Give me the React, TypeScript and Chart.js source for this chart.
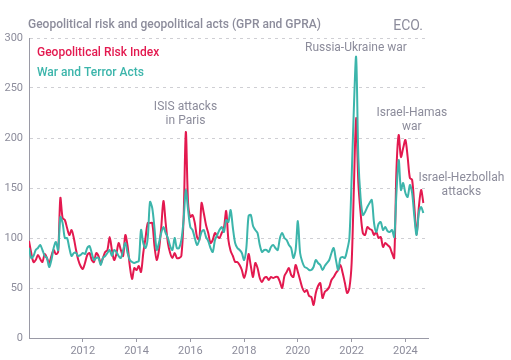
import React, { useEffect, useRef } from "react";
import { Chart, registerables } from "chart.js";

Chart.register(...registerables);

const START_YEAR = 2010;
const X_MAX = 2024.84;
const Y_TICKS = [0, 50, 100, 150, 200, 250, 300];
const X_TICK_YEARS = [2012, 2014, 2016, 2018, 2020, 2022, 2024];

// Monthly values from Jan 2010 to Sep 2024
const gprValues = [
  97, 85, 76, 78, 83, 79, 76, 84, 80, 75, 82, 88,
  84, 86, 140, 120, 118, 110, 103, 108, 100, 88, 78, 72,
  69, 75, 83, 85, 78, 76, 85, 82, 75, 80, 86, 88,
  101, 88, 78, 84, 95, 88, 82, 103, 92, 72, 59, 70,
  68, 72, 66, 85, 100, 115, 115, 115, 92, 78, 88, 110,
  137, 115, 95, 85, 80, 85, 80, 80, 82, 120, 206, 135,
  121, 123, 115, 101, 98, 135, 125, 113, 105, 95, 98, 105,
  102, 100, 105, 110, 127, 98, 87, 82, 76, 76, 73, 68,
  60, 68, 84, 72, 61, 75, 70, 60, 56, 60, 61, 58,
  61, 60, 61, 61, 56, 50, 62, 66, 70, 63, 61, 73,
  66, 58, 50, 46, 48, 42, 41, 33, 45, 52, 55, 40,
  46, 48, 51, 58, 61, 65, 68, 73, 65, 55, 45, 50,
  75, 150, 220, 155, 125, 105, 103, 111, 109, 108, 103, 106,
  100, 101, 91, 95, 93, 91, 85, 80, 168, 203, 181, 190,
  198, 181, 160, 158, 131, 103, 131, 148, 135,
];

const gpraValues = [
  90, 80, 82, 88, 90, 93, 88, 82, 80, 71, 78, 90,
  96, 88, 121, 115, 100, 100, 90, 82, 85, 85, 82, 83,
  85, 84, 90, 92, 85, 78, 80, 80, 73, 80, 82, 85,
  88, 82, 88, 86, 82, 80, 88, 95, 85, 78, 76, 75,
  76, 77, 108, 95, 90, 100, 136, 130, 110, 88, 95, 105,
  111, 105, 100, 92, 88, 100, 90, 90, 98, 118, 148, 128,
  111, 108, 100, 93, 98, 106, 108, 101, 97, 90, 86, 98,
  103, 108, 111, 106, 118, 116, 128, 110, 95, 90, 88, 85,
  78, 90, 122, 123, 112, 108, 105, 93, 86, 88, 88, 86,
  91, 93, 90, 88, 100, 105, 100, 98, 93, 90, 80, 88,
  117, 85, 76, 71, 70, 68, 68, 71, 78, 75, 73, 68,
  72, 75, 78, 85, 90, 78, 68, 80, 81, 80, 88, 100,
  160, 230, 281, 180, 140, 123, 126, 131, 135, 138, 115, 106,
  114, 116, 108, 111, 107, 106, 108, 101, 145, 178, 148, 155,
  145, 141, 153, 145, 121, 103, 125, 131, 125,
];

const seriesNames = ["Geopolitical Risk Index", "War and Terror Acts"];
const titleText = "Geopolitical risk and geopolitical acts (GPR and GPRA)";
const brandText = "ECO.";

const annotations = [
  { lines: ["Russia-Ukraine war"], x: 2022.16, value: 290 },
  { lines: ["ISIS attacks", "in Paris"], x: 2015.82, value: 231 },
  { lines: ["Israel-Hamas", "war"], x: 2024.24, value: 225 },
  { lines: ["Israel-Hezbollah", "attacks"], x: 2026.08, value: 160 },
];

const RED = "#e3194f";
const TEAL = "#3cb5ab";
const GRAY_TEXT = "#8c8c9b";
const FONT = "Roboto, 'Noto Sans', sans-serif";

const toPoints = (vals: number[]) =>
  vals.map((v, i) => ({ x: START_YEAR + i / 12, y: v }));

const overlayPlugin = {
  id: "overlayText",
  afterDraw(chart: any) {
    const { ctx, chartArea, scales } = chart;
    ctx.save();
    // title
    ctx.fillStyle = GRAY_TEXT;
    ctx.textBaseline = "middle";
    ctx.textAlign = "left";
    ctx.font = `500 12px ${FONT}`;
    ctx.fillText(titleText, chartArea.left - 1, 25);
    ctx.textAlign = "right";
    ctx.font = `400 14px ${FONT}`;
    ctx.fillText(brandText, chartArea.right - 5, 26);
    // legend
    ctx.textAlign = "left";
    ctx.font = `500 12px ${FONT}`;
    ctx.fillStyle = RED;
    ctx.fillText(seriesNames[0], chartArea.left + 8, 53);
    ctx.fillStyle = TEAL;
    ctx.fillText(seriesNames[1], chartArea.left + 8, 73);
    // annotations
    ctx.fillStyle = GRAY_TEXT;
    ctx.textAlign = "center";
    ctx.font = `400 12px ${FONT}`;
    annotations.forEach((a) => {
      const px = scales.x.getPixelForValue(a.x);
      const py = scales.y.getPixelForValue(a.value);
      a.lines.forEach((ln, i) => ctx.fillText(ln, px, py + i * 14));
    });
    ctx.restore();
  },
};

export default function App() {
  const ref = useRef<HTMLCanvasElement | null>(null);
  useEffect(() => {
    if (!ref.current) return;
    const chart = new Chart(ref.current, {
      type: "line",
      data: {
        datasets: [
          {
            label: seriesNames[1],
            data: toPoints(gpraValues),
            borderColor: TEAL,
            borderWidth: 2,
            pointRadius: 0,
            tension: 0.3,
          },
          {
            label: seriesNames[0],
            data: toPoints(gprValues),
            borderColor: RED,
            borderWidth: 2,
            pointRadius: 0,
            tension: 0.3,
          },
        ],
      },
      options: {
        animation: false,
        responsive: false,
        maintainAspectRatio: false,
        layout: { padding: { top: 38, right: 83, left: 0, bottom: 0 } },
        plugins: { legend: { display: false }, tooltip: { enabled: false } },
        scales: {
          x: {
            type: "linear",
            min: START_YEAR,
            max: X_MAX,
            afterFit: (s: any) => {
              s.height = 22;
            },
            afterBuildTicks: (s: any) => {
              s.ticks = X_TICK_YEARS.map((v) => ({ value: v }));
            },
            grid: {
              drawOnChartArea: false,
              drawTicks: true,
              tickLength: 4,
              color: "#9a9aa6",
            },
            border: { display: true, color: "#9a9aa6", width: 1 },
            ticks: {
              padding: 3,
              color: GRAY_TEXT,
              font: { family: FONT, size: 11 },
              maxRotation: 0,
              callback: (v: any) => String(v),
            },
          },
          y: {
            min: 0,
            max: 300,
            afterFit: (s: any) => {
              s.width = 29;
            },
            afterBuildTicks: (s: any) => {
              s.ticks = Y_TICKS.map((v) => ({ value: v }));
            },
            grid: {
              drawTicks: false,
              color: "#cfcfd4",
              lineWidth: 1,
            },
            border: { display: true, color: "#9a9aa6", width: 1, dash: [3, 4] },
            ticks: {
              padding: 6,
              color: GRAY_TEXT,
              font: { family: FONT, size: 11 },
            },
          },
        },
      },
      plugins: [overlayPlugin],
    });
    return () => chart.destroy();
  }, []);
  return (
    <div style={{ position: "fixed", left: 0, top: 0, width: 511, height: 360, background: "#fff" }}>
      <canvas ref={ref} width={511} height={360} style={{ display: "block" }} />
    </div>
  );
}
